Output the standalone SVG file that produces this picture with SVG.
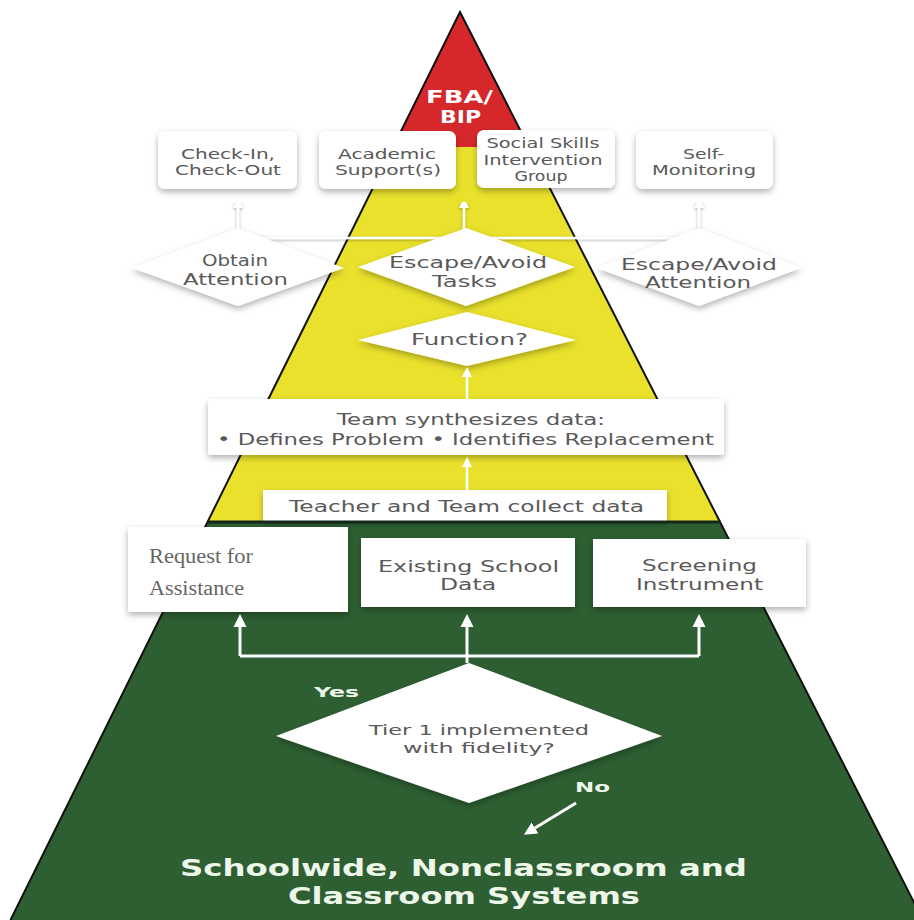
<svg xmlns="http://www.w3.org/2000/svg" width="914" height="920" viewBox="0 0 914 920">
  <defs>
    <style>
      .box { fill: #ffffff; filter: url(#sh); }
      .dia { fill: #ffffff; filter: url(#sh); }
      .t { font-family: "DejaVu Sans", "Liberation Sans", sans-serif; fill: #595959; text-anchor: middle; }
      .tw { font-family: "DejaVu Sans", "Liberation Sans", sans-serif; fill: #eef6ea; font-weight: bold; }
      .serif { font-family: "Liberation Serif", "DejaVu Serif", serif; fill: #666666; }
      .ln { fill: none; stroke: #ffffff; stroke-width: 2.5; }
      .lnb { fill: none; stroke: #ffffff; stroke-width: 3; }
    </style>
    <filter id="sh" x="-15%" y="-20%" width="130%" height="150%">
      <feDropShadow dx="0" dy="3" stdDeviation="3" flood-color="#000000" flood-opacity="0.3"/>
    </filter>
    <filter id="lsh" x="-20%" y="-20%" width="140%" height="140%">
      <feDropShadow dx="0" dy="1" stdDeviation="1.5" flood-color="#000000" flood-opacity="0.35"/>
    </filter>
    <marker id="ah" viewBox="0 0 10 10" refX="0" refY="5" markerWidth="10" markerHeight="11" markerUnits="userSpaceOnUse" orient="auto">
      <path d="M0,0 L10,5 L0,10 z" fill="#ffffff"/>
    </marker>
    <marker id="ahl" viewBox="0 0 10 10" refX="0" refY="5" markerWidth="13" markerHeight="15" markerUnits="userSpaceOnUse" orient="auto">
      <path d="M0,0 L10,5 L0,10 z" fill="#ffffff"/>
    </marker>
  </defs>

  <rect width="914" height="920" fill="#ffffff"/>

  <!-- three-tier pyramid -->
  <g id="pyramid">
    <polygon points="460,12 528.9,147 393.2,147" fill="#d6282b"/>
    <polygon points="393.2,147 528.9,147 720,522 207.5,522" fill="#e9e12c"/>
    <polygon points="207.5,522 720,522 923,920 10.5,920" fill="#2d5f32"/>
    <path d="M10.5,920 L460,12 L923,920" fill="none" stroke="#111111" stroke-width="2"/>
  </g>

  <!-- tier 3 label -->
  <g id="fba">
    <text class="tw" x="459.5" y="103" font-size="18" text-anchor="middle" style="fill:#ffffff" textLength="67" lengthAdjust="spacingAndGlyphs">FBA/</text>
    <text class="tw" x="460.5" y="123" font-size="18" text-anchor="middle" style="fill:#ffffff" textLength="41" lengthAdjust="spacingAndGlyphs">BIP</text>
  </g>

  <!-- interventions -->
  <g id="checkin">
    <rect class="box" x="158" y="131" width="139" height="58" rx="7"/>
    <text class="t" x="228" y="159" font-size="14" textLength="94" lengthAdjust="spacingAndGlyphs">Check-In,</text>
    <text class="t" x="228" y="175" font-size="14" textLength="106" lengthAdjust="spacingAndGlyphs">Check-Out</text>
  </g>
  <g id="academic">
    <rect class="box" x="319" y="131" width="137" height="58" rx="7"/>
    <text class="t" x="387" y="159" font-size="14" textLength="98" lengthAdjust="spacingAndGlyphs">Academic</text>
    <text class="t" x="388" y="175" font-size="14" textLength="106" lengthAdjust="spacingAndGlyphs">Support(s)</text>
  </g>
  <g id="social">
    <rect class="box" x="477" y="130" width="138" height="58" rx="7"/>
    <text class="t" x="543" y="148" font-size="14" textLength="113" lengthAdjust="spacingAndGlyphs">Social Skills</text>
    <text class="t" x="543" y="165" font-size="14" textLength="119" lengthAdjust="spacingAndGlyphs">Intervention</text>
    <text class="t" x="541" y="181" font-size="14" textLength="53" lengthAdjust="spacingAndGlyphs">Group</text>
  </g>
  <g id="selfmon">
    <rect class="box" x="636" y="131" width="137" height="58" rx="7"/>
    <text class="t" x="703.5" y="159" font-size="14" textLength="41" lengthAdjust="spacingAndGlyphs">Self-</text>
    <text class="t" x="704" y="175" font-size="14" textLength="104" lengthAdjust="spacingAndGlyphs">Monitoring</text>
  </g>

  <!-- links from functions to interventions (drawn under the diamonds) -->
  <g id="function-links" filter="url(#lsh)">
    <path class="ln" d="M238,238 H699"/>
    <path class="ln" d="M238,238 V208" marker-end="url(#ah)"/>
    <path class="ln" d="M464,238 V208" marker-end="url(#ah)"/>
    <path class="ln" d="M699,238 V208" marker-end="url(#ah)"/>
  </g>

  <!-- function decisions -->
  <g id="obtain-attention">
    <polygon class="dia" points="132,268 238,228 344,268 238,306"/>
    <text class="t" x="235" y="266" font-size="15" textLength="66" lengthAdjust="spacingAndGlyphs">Obtain</text>
    <text class="t" x="235.5" y="285" font-size="15" textLength="105" lengthAdjust="spacingAndGlyphs">Attention</text>
  </g>
  <g id="escape-tasks">
    <polygon class="dia" points="358,267 466,228 575,267 466,306"/>
    <text class="t" x="468" y="268" font-size="15" textLength="158" lengthAdjust="spacingAndGlyphs">Escape/Avoid</text>
    <text class="t" x="464.5" y="287" font-size="15" textLength="65" lengthAdjust="spacingAndGlyphs">Tasks</text>
  </g>
  <g id="escape-attention">
    <polygon class="dia" points="597,268 699,228 801,268 699,306"/>
    <text class="t" x="699" y="270" font-size="15" textLength="156" lengthAdjust="spacingAndGlyphs">Escape/Avoid</text>
    <text class="t" x="698" y="288" font-size="15" textLength="106" lengthAdjust="spacingAndGlyphs">Attention</text>
  </g>
  <g id="function">
    <polygon class="dia" points="358,340 467,312 576,340 467,366"/>
    <text class="t" x="469.5" y="345" font-size="15" textLength="117" lengthAdjust="spacingAndGlyphs">Function?</text>
  </g>

  <!-- data steps -->
  <g id="synthesize">
    <rect class="box" x="208" y="399" width="516" height="56" rx="3"/>
    <text class="t" x="471" y="425" font-size="15.5" textLength="268" lengthAdjust="spacingAndGlyphs">Team synthesizes data:</text>
    <text class="t" x="465.5" y="445" font-size="15.5" textLength="497" lengthAdjust="spacingAndGlyphs">• Defines Problem  • Identifies Replacement</text>
  </g>
  <g id="collect">
    <rect class="box" x="263" y="490" width="404" height="31"/>
    <text class="t" x="466.5" y="512" font-size="15" textLength="355" lengthAdjust="spacingAndGlyphs">Teacher and Team collect data</text>
  </g>

  <!-- tier boundary -->
  <line x1="207" y1="522" x2="720.5" y2="522" stroke="#15261a" stroke-width="3"/>

  <!-- data sources -->
  <g id="request">
    <rect class="box" x="128" y="527" width="220" height="85"/>
    <text class="serif" x="149" y="563" font-size="20" textLength="104" lengthAdjust="spacingAndGlyphs">Request for</text>
    <text class="serif" x="149" y="595" font-size="20" textLength="95" lengthAdjust="spacingAndGlyphs">Assistance</text>
  </g>
  <g id="existing">
    <rect class="box" x="361" y="538" width="214" height="69"/>
    <text class="t" x="468.5" y="572" font-size="16" textLength="181" lengthAdjust="spacingAndGlyphs">Existing School</text>
    <text class="t" x="468" y="590" font-size="16" textLength="56" lengthAdjust="spacingAndGlyphs">Data</text>
  </g>
  <g id="screening">
    <rect class="box" x="593" y="539" width="213" height="68"/>
    <text class="t" x="699.5" y="571" font-size="16" textLength="115" lengthAdjust="spacingAndGlyphs">Screening</text>
    <text class="t" x="699.5" y="590" font-size="16" textLength="127" lengthAdjust="spacingAndGlyphs">Instrument</text>
  </g>

  <!-- tier 1 check -->
  <g id="tier1">
    <polygon class="dia" points="276,736 469,663 662,736 469,803"/>
    <text class="t" x="479" y="735" font-size="14.5" textLength="220" lengthAdjust="spacingAndGlyphs">Tier 1 implemented</text>
    <text class="t" x="479" y="753" font-size="14.5" textLength="152" lengthAdjust="spacingAndGlyphs">with fidelity?</text>
  </g>

  <!-- connectors -->
  <g id="connectors">
    <path class="ln" d="M467,399 V377" marker-end="url(#ah)"/>
    <path class="ln" d="M467,490 V467" marker-end="url(#ah)"/>
    <path class="lnb" d="M240,656 H699"/>
    <path class="lnb" d="M240,656 V627" marker-end="url(#ahl)"/>
    <path class="lnb" d="M467,663 V627" marker-end="url(#ahl)"/>
    <path class="lnb" d="M699,656 V627" marker-end="url(#ahl)"/>
    <path class="lnb" d="M576,803 L535,828" marker-end="url(#ahl)"/>
    <text class="tw" x="314" y="697" font-size="14.5" textLength="45" lengthAdjust="spacingAndGlyphs">Yes</text>
    <text class="tw" x="575" y="792" font-size="14.5" textLength="35" lengthAdjust="spacingAndGlyphs">No</text>
  </g>

  <!-- tier 1 label -->
  <g id="universal">
    <text class="tw" x="463.5" y="876" font-size="23" text-anchor="middle" textLength="567" lengthAdjust="spacingAndGlyphs">Schoolwide, Nonclassroom and</text>
    <text class="tw" x="464" y="904" font-size="23" text-anchor="middle" textLength="352" lengthAdjust="spacingAndGlyphs">Classroom Systems</text>
  </g>
</svg>
